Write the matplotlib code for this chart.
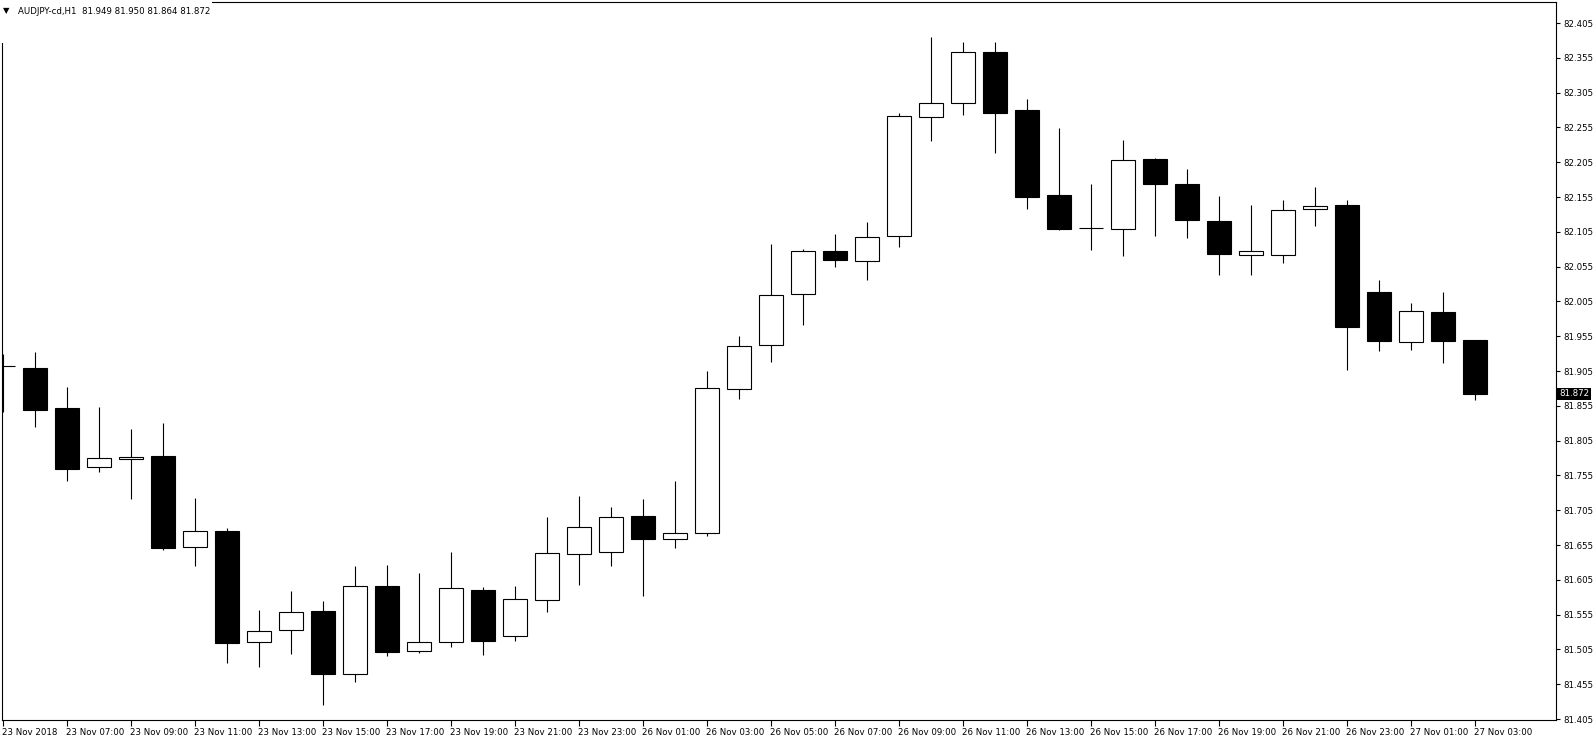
import matplotlib
matplotlib.use("Agg")
import matplotlib.pyplot as plt
import matplotlib.transforms as mtransforms
from matplotlib.patches import Rectangle

# ---------------- data (AUDJPY-cd, H1) ----------------
opens = [81.912, 81.909, 81.852, 81.767, 81.779, 81.783, 81.652, 81.675, 81.516, 81.533,
         81.560, 81.470, 81.596, 81.503, 81.516, 81.590, 81.524, 81.576, 81.642, 81.645,
         81.697, 81.664, 81.672, 81.879, 81.942, 82.016, 82.077, 82.063, 82.099, 82.270,
         82.290, 82.363, 82.280, 82.158, 82.110, 82.109, 82.210, 82.174, 82.121, 82.072,
         82.072, 82.138, 82.144, 82.019, 81.947, 81.990, 81.949]
highs = [81.929, 81.932, 81.882, 81.853, 81.822, 81.830, 81.723, 81.679, 81.562, 81.589,
         81.575, 81.625, 81.626, 81.615, 81.645, 81.595, 81.596, 81.695, 81.725, 81.710,
         81.721, 81.747, 81.905, 81.955, 82.087, 82.080, 82.102, 82.119, 82.276, 82.385,
         82.378, 82.378, 82.296, 82.254, 82.174, 82.237, 82.211, 82.195, 82.156, 82.144,
         82.151, 82.169, 82.151, 82.036, 82.003, 82.019, 81.950]
lows = [81.846, 81.825, 81.747, 81.760, 81.721, 81.648, 81.625, 81.485, 81.480, 81.498,
        81.425, 81.458, 81.496, 81.500, 81.508, 81.497, 81.517, 81.559, 81.598, 81.625,
        81.582, 81.651, 81.668, 81.865, 81.918, 81.971, 82.054, 82.036, 82.083, 82.235,
        82.273, 82.218, 82.138, 82.108, 82.079, 82.070, 82.099, 82.096, 82.043, 82.043,
        82.060, 82.113, 81.906, 81.934, 81.935, 81.917, 81.864]
closes = [81.912, 81.849, 81.764, 81.780, 81.781, 81.651, 81.675, 81.514, 81.531, 81.559,
          81.470, 81.596, 81.501, 81.516, 81.593, 81.517, 81.577, 81.644, 81.681, 81.695,
          81.664, 81.672, 81.881, 81.941, 82.014, 82.077, 82.064, 82.098, 82.271, 82.290,
          82.363, 82.276, 82.155, 82.109, 82.110, 82.208, 82.174, 82.122, 82.073, 82.077,
          82.136, 82.142, 81.968, 81.948, 81.991, 81.948, 81.872]

time_labels = ["23 Nov 2018", "23 Nov 07:00", "23 Nov 09:00", "23 Nov 11:00", "23 Nov 13:00",
               "23 Nov 15:00", "23 Nov 17:00", "23 Nov 19:00", "23 Nov 21:00", "23 Nov 23:00",
               "26 Nov 01:00", "26 Nov 03:00", "26 Nov 05:00", "26 Nov 07:00", "26 Nov 09:00",
               "26 Nov 11:00", "26 Nov 13:00", "26 Nov 15:00", "26 Nov 17:00", "26 Nov 19:00",
               "26 Nov 21:00", "26 Nov 23:00", "27 Nov 01:00", "27 Nov 03:00"]
price_ticks = [81.405, 81.455, 81.505, 81.555, 81.605, 81.655, 81.705, 81.755, 81.805,
               81.855, 81.905, 81.955, 82.005, 82.055, 82.105, 82.155, 82.205, 82.255,
               82.305, 82.355, 82.405]
title = "AUDJPY-cd,H1  81.949 81.950 81.864 81.872"
last_price = 81.872

# ---------------- figure ----------------
W, H = 1596, 744
FS = 6.2
plt.rcParams['font.family'] = ['DejaVu Sans']
fig = plt.figure(figsize=(W / 100, H / 100), dpi=100)
ax = fig.add_axes([2 / W, 1 - 720 / H, 1554 / W, 718 / H])

lw = 0.8
body_w = 0.75
for i, (o, h, l, c) in enumerate(zip(opens, highs, lows, closes)):
    ax.vlines(i, l, h, color="black", linewidth=lw, zorder=2)
    if abs(c - o) < 1e-9:
        ax.hlines(o, i - body_w / 2, i + body_w / 2, color="black", linewidth=lw, zorder=3)
    else:
        bull = c > o
        ax.add_patch(Rectangle((i - body_w / 2, min(o, c)), body_w, abs(c - o),
                               facecolor="white" if bull else "black",
                               edgecolor="black", linewidth=lw, zorder=3))

ax.set_xlim(-1 / 32, -1 / 32 + 1554 / 32)
ax.set_ylim(81.4036, 81.4036 + 718 / 696)

ax.yaxis.tick_right()
ax.set_yticks(price_ticks)
ax.set_yticklabels([f"{v:.3f}" for v in price_ticks])
ax.tick_params(axis="y", direction="out", length=3, width=0.8, pad=2, labelsize=FS, colors="black")

ax.set_xticks(list(range(0, 2 * len(time_labels), 2)))
ax.set_xticklabels(time_labels)
ax.tick_params(axis="x", direction="out", length=4, width=0.8, pad=2, labelsize=FS, colors="black")
for lbl in ax.get_xticklabels():
    lbl.set_horizontalalignment("left")
    lbl.set_transform(lbl.get_transform() + mtransforms.ScaledTranslation(-1 / 100, 0, fig.dpi_scale_trans))

for s in ax.spines.values():
    s.set_color("black")
    s.set_linewidth(0.8)

# current price marker on the price scale
trans = mtransforms.blended_transform_factory(ax.transAxes, ax.transData)
ax.text(1.0, last_price, "81.872", transform=trans + mtransforms.ScaledTranslation(3 / 100, 0, fig.dpi_scale_trans),
        ha="left", va="center", color="white", fontsize=FS, clip_on=False, zorder=10,
        bbox=dict(boxstyle="square,pad=0.18", facecolor="black", edgecolor="none"))

# title area
fig.patches.append(Rectangle((0, 1 - 43 / H), 212 / W, 43 / H, transform=fig.transFigure,
                             facecolor="white", edgecolor="none", zorder=5))
fig.text(3 / W, 1 - 11 / H, "\u25BC", fontsize=6, va="center", ha="left", color="black", zorder=10)
fig.text(18 / W, 1 - 11 / H, title, fontsize=FS, va="center", ha="left", color="black", zorder=10)

fig.savefig("out.png", dpi=100, facecolor="white")
